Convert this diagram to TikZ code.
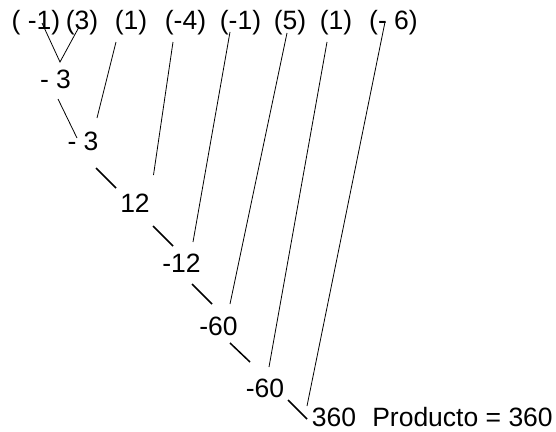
\documentclass[tikz,border=0pt]{standalone}
\usepackage{fontspec}
\setmainfont{Liberation Sans}
\usetikzlibrary{calc}

\begin{document}
\begin{tikzpicture}[x=1pt, y=-1pt,
  num/.style={font=\fontsize{26.5}{31}\selectfont, inner sep=0pt, anchor=base},
  thn/.style={line width=0.8pt},
  thk/.style={line width=1.5pt}]
\useasboundingbox (0,0) rectangle (556,431);
\node[num] (t1) at (36,29) {( -1)};
\node[num] (t2) at (82,29) {(3)};
\node[num] (t3) at (131,29) {(1)};
\node[num] (t4) at (185.5,29) {(-4)};
\node[num] (t5) at (240.5,29) {(-1)};
\node[num] (t6) at (290,29) {(5)};
\node[num] (t7) at (336,29) {(1)};
\node[num] (t8) at (393.5,29) {(- 6)};
\node[num] (p1) at (55.5,88) {- 3};
\node[num] (p2) at (83,150) {- 3};
\node[num] (p3) at (135,212) {12};
\node[num] (p4) at (181.5,272) {-12};
\node[num] (p5) at (218.5,335) {-60};
\node[num] (p6) at (265,397) {-60};
\node[num] (p7) at (334,426) {360};
\node[num] (res) at (462.5,426) {Producto = 360};
\draw[thn] ($(t1.base)+(6,-6)$) -- ($(p1.base)+(4.5,-26)$) -- ($(t2.base)+(-3,-2)$);
\draw[thn] ($(p1.base)+(2.5,11)$) -- ($(p2.base)+(-6,-12)$);
\draw[thn] ($(t3.base)+(-15,13)$) -- ($(p2.base)+(14,-32)$);
\draw[thk] ($(p2.base)+(13,18)$) -- ($(p3.base)+(-19,-24)$);
\draw[thn] ($(t4.base)+(-12.5,13)$) -- ($(p3.base)+(18.5,-37)$);
\draw[thk] ($(p3.base)+(18,14)$) -- ($(p4.base)+(-8.5,-26)$);
\draw[thn] ($(t5.base)+(-10.5,3)$) -- ($(p4.base)+(11.5,-30)$);
\draw[thk] ($(p4.base)+(10.5,12)$) -- ($(p5.base)+(-6.5,-31)$);
\draw[thn] ($(t6.base)+(-3,4)$) -- ($(p5.base)+(11.5,-31)$);
\draw[thk] ($(p5.base)+(11.5,8)$) -- ($(p6.base)+(-15,-35)$);
\draw[thn] ($(t7.base)+(-9,13)$) -- ($(p6.base)+(4,-30)$);
\draw[thk] ($(p6.base)+(23,3)$) -- ($(p7.base)+(-27,-7)$);
\draw[thn] ($(t8.base)+(-8.5,-7)$) -- ($(p7.base)+(-27,-20)$);
\end{tikzpicture}
\end{document}
